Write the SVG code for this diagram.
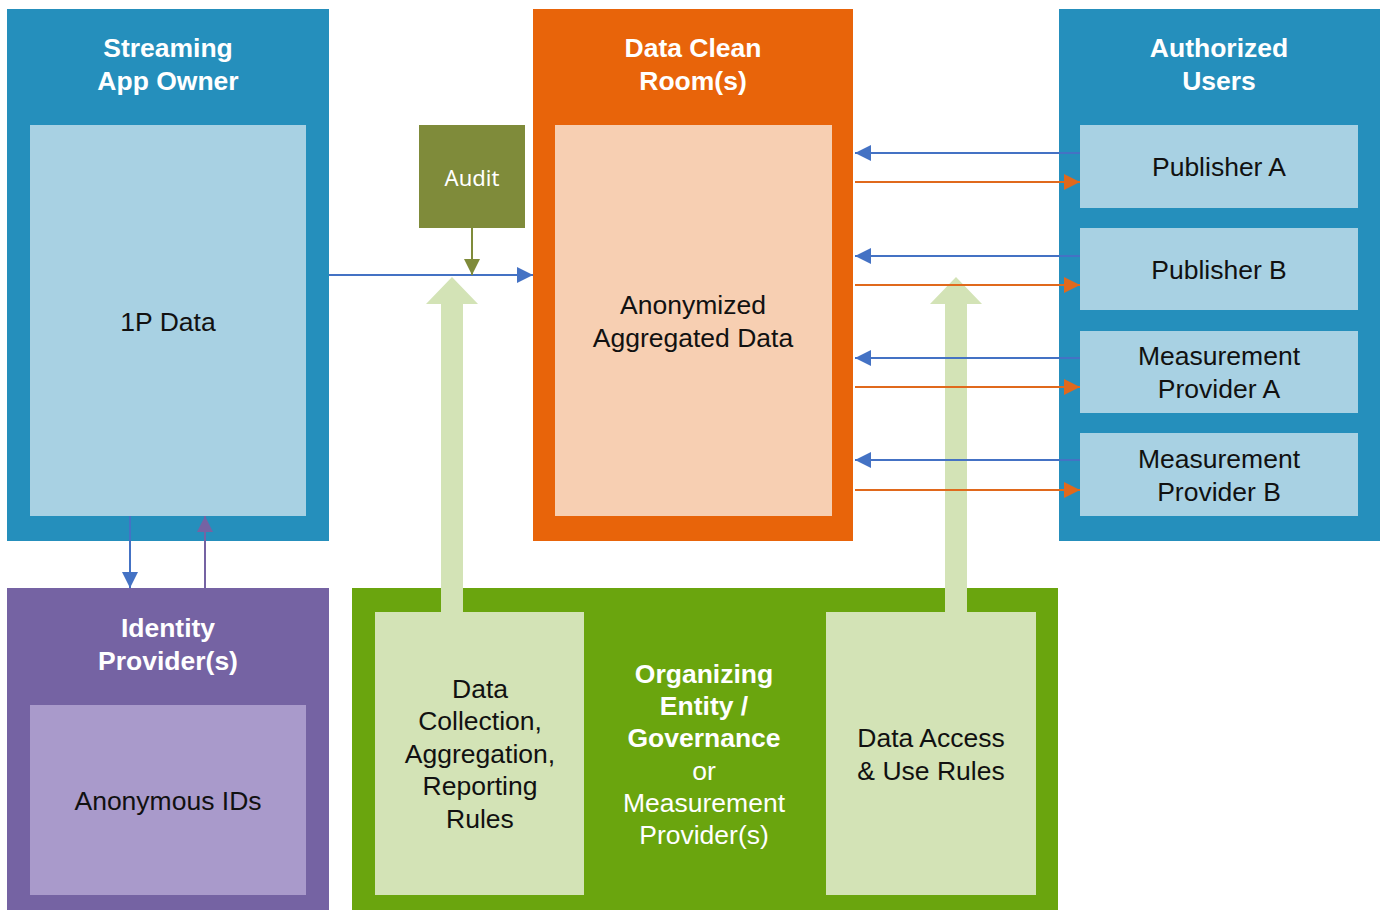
<svg xmlns="http://www.w3.org/2000/svg" width="1384" height="911" viewBox="0 0 1384 911">
<style>
.hdr{font-family:"Liberation Sans",Arial,sans-serif;font-weight:bold;font-size:26.5px;fill:#fff;text-anchor:middle}
.body{font-family:"Liberation Sans",Arial,sans-serif;font-size:26.5px;fill:#111;text-anchor:middle}
.wt{font-family:"Liberation Sans",Arial,sans-serif;font-size:26.5px;fill:#fff;text-anchor:middle}
.blue{stroke:#4472C4;stroke-width:2;fill:none}
.orng{stroke:#E0691C;stroke-width:2;fill:none}
</style>
<defs>
<marker id="ab" viewBox="0 0 10 10" refX="10" refY="5" markerWidth="16" markerHeight="16" orient="auto" markerUnits="userSpaceOnUse"><path d="M0,0L10,5L0,10z" fill="#4472C4"/></marker>
<marker id="ao" viewBox="0 0 10 10" refX="10" refY="5" markerWidth="16" markerHeight="16" orient="auto" markerUnits="userSpaceOnUse"><path d="M0,0L10,5L0,10z" fill="#E0691C"/></marker>
<marker id="ap" viewBox="0 0 10 10" refX="10" refY="5" markerWidth="16" markerHeight="16" orient="auto" markerUnits="userSpaceOnUse"><path d="M0,0L10,5L0,10z" fill="#7563A3"/></marker>
<marker id="ag" viewBox="0 0 10 10" refX="10" refY="5" markerWidth="16" markerHeight="16" orient="auto" markerUnits="userSpaceOnUse"><path d="M0,0L10,5L0,10z" fill="#7F8B3A"/></marker>
</defs>
<rect width="1384" height="911" fill="#fff"/>
<g id="streaming">
<rect x="7" y="9" width="322" height="532" fill="#258FBC"/>
<text class="hdr" x="168" y="57">Streaming</text>
<text class="hdr" x="168" y="90">App Owner</text>
<rect x="30" y="125" width="276" height="391" fill="#A8D1E3"/>
<text class="body" x="168" y="331">1P Data</text>
</g>
<g id="cleanroom">
<rect x="533" y="9" width="320" height="532" fill="#E8640A"/>
<text class="hdr" x="693" y="57">Data Clean</text>
<text class="hdr" x="693" y="90">Room(s)</text>
<rect x="555" y="125" width="277" height="391" fill="#F7CFB2"/>
<text class="body" x="693" y="314">Anonymized</text>
<text class="body" x="693" y="347">Aggregated Data</text>
</g>
<g id="users">
<rect x="1059" y="9" width="321" height="532" fill="#258FBC"/>
<text class="hdr" x="1219" y="57">Authorized</text>
<text class="hdr" x="1219" y="90">Users</text>
</g>
<g id="pubA"><rect x="1080" y="125" width="278" height="83" fill="#A8D1E3"/><text class="body" x="1219" y="176">Publisher A</text></g>
<g id="pubB"><rect x="1080" y="228" width="278" height="82" fill="#A8D1E3"/><text class="body" x="1219" y="279">Publisher B</text></g>
<g id="mpA"><rect x="1080" y="331" width="278" height="82" fill="#A8D1E3"/><text class="body" x="1219" y="365">Measurement</text><text class="body" x="1219" y="398">Provider A</text></g>
<g id="mpB"><rect x="1080" y="433" width="278" height="83" fill="#A8D1E3"/><text class="body" x="1219" y="468">Measurement</text><text class="body" x="1219" y="501">Provider B</text></g>
<g id="identity">
<rect x="7" y="588" width="322" height="322" fill="#7563A3"/>
<text class="hdr" x="168" y="637">Identity</text>
<text class="hdr" x="168" y="670">Provider(s)</text>
<rect x="30" y="705" width="276" height="190" fill="#A99ACB"/>
<text class="body" x="168" y="810">Anonymous IDs</text>
</g>
<g id="audit">
<rect x="419" y="125" width="106" height="103" fill="#7F8B3A"/>
<text x="472" y="186" font-family="'Noto Sans',sans-serif" font-size="22" fill="#fff" text-anchor="middle">Audit</text>
</g>
<g id="governance">
<rect x="352" y="588" width="706" height="322" fill="#6AA50E"/>
<text class="hdr" x="704" y="683">Organizing</text>
<text class="hdr" x="704" y="715">Entity /</text>
<text class="hdr" x="704" y="747">Governance</text>
<text class="wt" x="704" y="780">or</text>
<text class="wt" x="704" y="812">Measurement</text>
<text class="wt" x="704" y="844">Provider(s)</text>
</g>
<g id="collection">
<rect x="375" y="612" width="209" height="283" fill="#D3E3B6"/>
<text class="body" x="480" y="698">Data</text>
<text class="body" x="480" y="730">Collection,</text>
<text class="body" x="480" y="763">Aggregation,</text>
<text class="body" x="480" y="795">Reporting</text>
<text class="body" x="480" y="828">Rules</text>
</g>
<g id="access">
<rect x="826" y="612" width="210" height="283" fill="#D3E3B6"/>
<text class="body" x="931" y="747">Data Access</text>
<text class="body" x="931" y="780">&amp; Use Rules</text>
</g>
<g id="connectors">
<path d="M441,612V304H426L452,277L478,304H463V612z" fill="#D3E3B6"/>
<path d="M945,612V304H930L956,277L982,304H967V612z" fill="#D3E3B6"/>
<line x1="329" y1="275" x2="533" y2="275" class="blue" marker-end="url(#ab)"/>
<line x1="472" y1="228" x2="472" y2="275" stroke="#7F8B3A" stroke-width="2" marker-end="url(#ag)"/>
<line x1="1080" y1="153" x2="855" y2="153" class="blue" marker-end="url(#ab)"/>
<line x1="855" y1="182" x2="1080" y2="182" class="orng" marker-end="url(#ao)"/>
<line x1="1080" y1="256" x2="855" y2="256" class="blue" marker-end="url(#ab)"/>
<line x1="855" y1="285" x2="1080" y2="285" class="orng" marker-end="url(#ao)"/>
<line x1="1080" y1="358" x2="855" y2="358" class="blue" marker-end="url(#ab)"/>
<line x1="855" y1="387" x2="1080" y2="387" class="orng" marker-end="url(#ao)"/>
<line x1="1080" y1="460" x2="855" y2="460" class="blue" marker-end="url(#ab)"/>
<line x1="855" y1="490" x2="1080" y2="490" class="orng" marker-end="url(#ao)"/>
<line x1="130" y1="516" x2="130" y2="588" class="blue" marker-end="url(#ab)"/>
<line x1="205" y1="588" x2="205" y2="516" stroke="#7563A3" stroke-width="2" marker-end="url(#ap)"/>
</g>
</svg>
